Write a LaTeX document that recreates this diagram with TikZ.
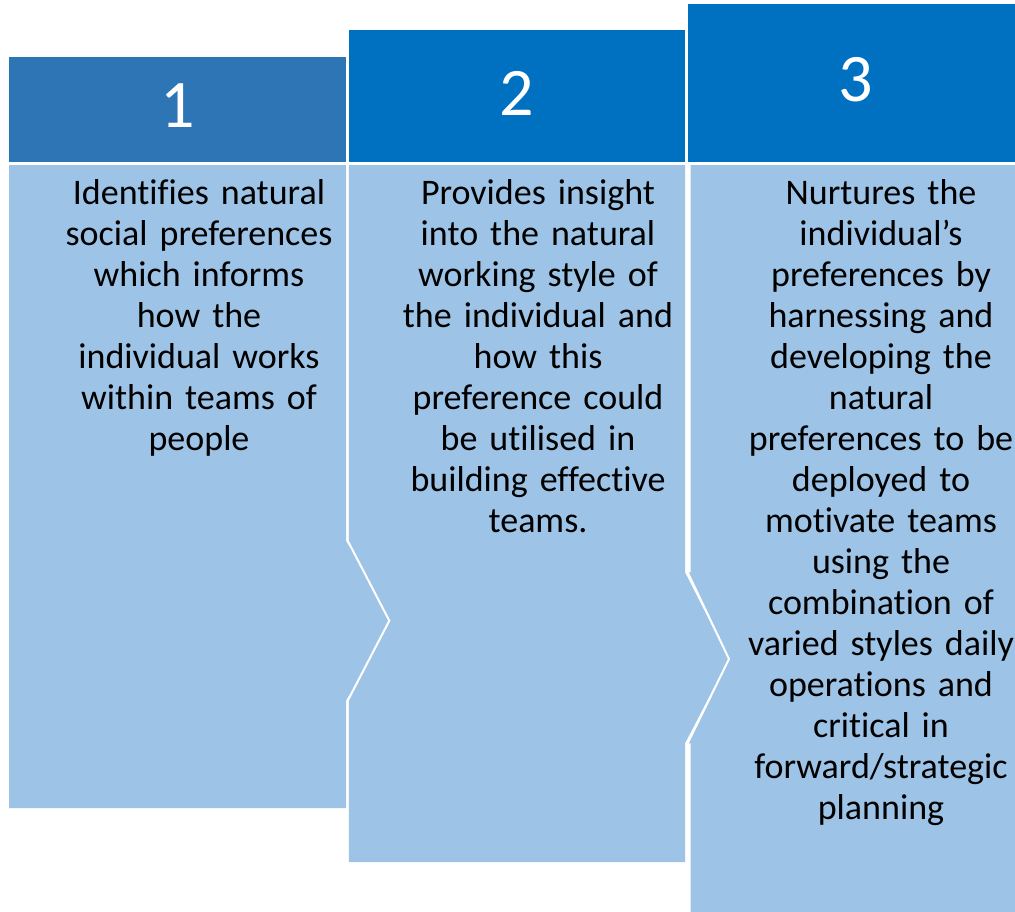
\documentclass[tikz,border=0pt]{standalone}
\usepackage{fontspec}
\setmainfont{Carlito}[Ligatures=NoCommon]
\definecolor{hdrA}{HTML}{2E75B6}
\definecolor{hdrB}{HTML}{0070C0}
\definecolor{bodyblue}{HTML}{9DC3E6}
\tikzset{
  hdr/.style={fill=#1, draw=none},
  bodyfill/.style={fill=bodyblue, draw=none},
  sep/.style={draw=white, line width=2pt, line join=miter},
  num/.style={text=white, font=\fontsize{68}{68}\selectfont, inner sep=0pt},
  btext/.style={text=black, font=\fontsize{36}{41}\selectfont, align=center, text width=340pt, inner sep=0pt, anchor=base}
}
\begin{document}
\begin{tikzpicture}[x=1pt,y=-1pt]
\useasboundingbox (0,0) rectangle (1015,911);
% headers
\path[hdr=hdrA] (9,57) rectangle (346,162);
\path[hdr=hdrB] (348.5,30) rectangle (685,162);
\path[hdr=hdrB] (687.7,4) rectangle (1025,162);
% bodies
\path[bodyfill] (690.7,165) -- (1025,165) -- (1025,915) -- (690.7,915) -- (690.7,743.3) -- (687.7,743.3) -- (729,659) -- (687.7,572.3) -- (690.7,572.3) -- cycle;
\path[bodyfill] (348.5,165) -- (685,165) -- (685,572.3) -- (729,659) -- (685,743.3) -- (685,862) -- (348.5,862) -- cycle;
\path[bodyfill] (9,165) -- (346,165) -- (346,540.7) -- (389.3,620.7) -- (346,700.7) -- (346,808) -- (9,808) -- cycle;
% separators
\draw[sep] (347.7,165) -- (347.7,540.7) -- (389.3,620.7) -- (347.7,700.7) -- (347.7,862);
\draw[sep] (687.7,572.3) -- (729,659) -- (687.7,743.3);
% numbers
\node[num] (n1) at (178,106) {1};
\node[num] (n2) at (516.7,93) {2};
\node[num] (n3) at (856,80) {3};
% texts
\node[btext] (t1) at (199,204) {Identifies natural\\social preferences\\which informs\\how the\\individual works\\within teams of\\people};
\node[btext] (t2) at (538,204) {Provides insight\\into the natural\\working style of\\the individual and\\how this\\preference could\\be utilised in\\building effective\\teams.};
\node[btext] (t3) at (881,204) {Nurtures the\\individual’s\\preferences by\\harnessing and\\developing the\\natural\\preferences to be\\deployed to\\motivate teams\\using the\\combination of\\varied styles daily\\operations and\\critical in\\forward/strategic\\planning};
\end{tikzpicture}
\end{document}
